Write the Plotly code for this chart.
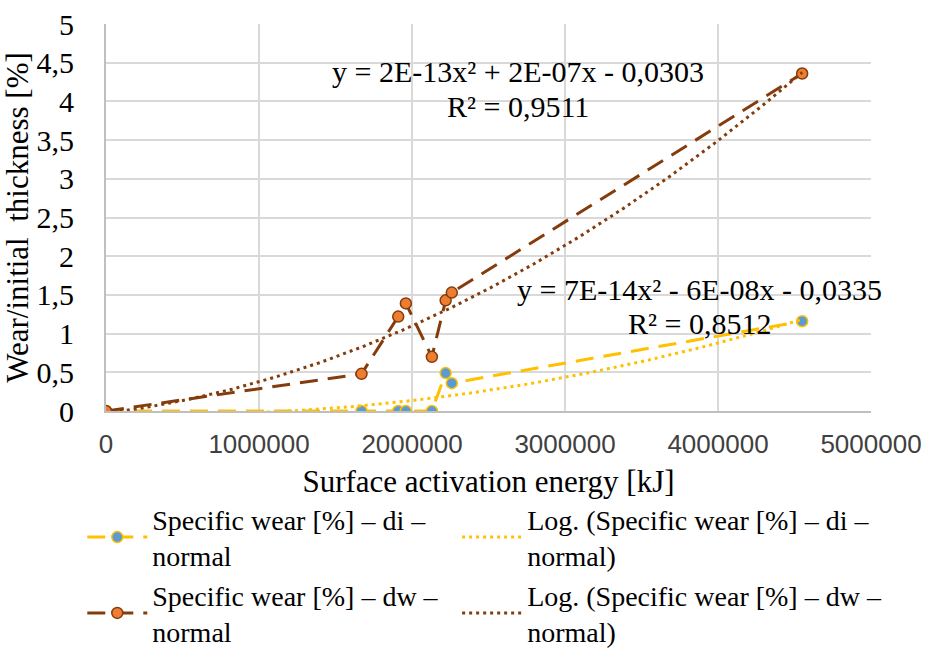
import numpy as np
import plotly.graph_objects as go

energy = [0, 1670000, 1910000, 1960000, 2130000, 2220000, 2260000, 4550000]
wear_di = [0, 0, 0, 0, 0, 0.49, 0.36, 1.16]
wear_dw = [0, 0.48, 1.22, 1.39, 0.70, 1.43, 1.53, 4.36]

x_ticks = [0, 1000000, 2000000, 3000000, 4000000, 5000000]
x_labels = ["0", "1000000", "2000000", "3000000", "4000000", "5000000"]
y_ticks = [0, 0.5, 1, 1.5, 2, 2.5, 3, 3.5, 4, 4.5, 5]
y_labels = ["0", "0,5", "1", "1,5", "2", "2,5", "3", "3,5", "4", "4,5", "5"]

names = ["Specific wear [%] – di –<br>normal",
         "Log. (Specific wear [%] – di –<br>normal)",
         "Specific wear [%] – dw –<br>normal",
         "Log. (Specific wear [%] – dw –<br>normal)"]
eq_di = ["y = 7E-14x² - 6E-08x - 0,0335", "R² = 0,8512"]
eq_dw = ["y = 2E-13x² + 2E-07x - 0,0303", "R² = 0,9511"]

SERIF = "Liberation Serif"
SANS = "Liberation Sans"
YEL = "#ffc000"
BROWN = "#843c0c"
BLUE = "#5b9bd5"
ORANGE = "#ed7d31"

xs = np.array(energy, dtype=float)
xfit = np.linspace(0, xs.max(), 200)
fit_di = np.polyval(np.polyfit(xs, wear_di, 2), xfit)
fit_dw = np.polyval(np.polyfit(xs, wear_dw, 2), xfit)

DASH = "18px,10px"
DOT = "3px,4px"

fig = go.Figure()
fig.add_trace(go.Scatter(x=energy, y=wear_di, mode="lines+markers", name=names[0], legend="legend",
                         line=dict(color=YEL, width=3, dash=DASH),
                         marker=dict(color=BLUE, size=11, line=dict(color=YEL, width=1.5))))
fig.add_trace(go.Scatter(x=xfit, y=fit_di, mode="lines", name=names[1], legend="legend2",
                         line=dict(color=YEL, width=3, dash=DOT)))
fig.add_trace(go.Scatter(x=energy, y=wear_dw, mode="lines+markers", name=names[2], legend="legend",
                         line=dict(color=BROWN, width=3, dash=DASH),
                         marker=dict(color=ORANGE, size=11, line=dict(color=BROWN, width=1.5))))
fig.add_trace(go.Scatter(x=xfit, y=fit_dw, mode="lines", name=names[3], legend="legend2",
                         line=dict(color=BROWN, width=3, dash=DOT)))

eq_font = dict(family=SERIF, size=30, color="#000")
for txt, yv in zip(eq_dw, [4.38, 3.93]):
    fig.add_annotation(x=2693000, y=yv, text=txt, showarrow=False, font=eq_font)
for txt, yv in zip(eq_di, [1.576, 1.137]):
    fig.add_annotation(x=3876000, y=yv, text=txt, showarrow=False, font=eq_font)

leg_common = dict(orientation="v", y=-0.215, xanchor="left", yanchor="top",
                  itemwidth=60, tracegroupgap=0,
                  font=dict(family=SERIF, size=28, color="#000"), traceorder="normal")

fig.update_layout(
    width=930, height=649,
    margin=dict(l=106, r=59, t=24, b=238, autoexpand=False),
    paper_bgcolor="white", plot_bgcolor="white",
    font=dict(family=SERIF, size=28, color="#000"),
    showlegend=True,
    legend=dict(x=-0.031, **leg_common),
    legend2=dict(x=0.459, **leg_common),
    xaxis=dict(range=[0, 5000000], tickvals=x_ticks, ticktext=x_labels,
               tickfont=dict(family=SANS, size=26, color="#404040"),
               showgrid=True, gridcolor="#d9d9d9", gridwidth=2,
               showline=True, linecolor="#bfbfbf", linewidth=2, zeroline=False,
               ticks="", ticklabelstandoff=9,
               title=dict(text="Surface activation energy [kJ]",
                          font=dict(family=SERIF, size=31), standoff=12)),
    yaxis=dict(range=[0, 5], tickvals=y_ticks, ticktext=y_labels,
               tickfont=dict(family=SERIF, size=30, color="#000"),
               showgrid=True, gridcolor="#d9d9d9", gridwidth=2,
               showline=True, linecolor="#bfbfbf", linewidth=2, zeroline=False,
               ticks="", ticklabelstandoff=24,
               title=dict(text="Wear/initial  thickness [%]",
                          font=dict(family=SERIF, size=31), standoff=0)),
)

fig.write_html("out.html")
